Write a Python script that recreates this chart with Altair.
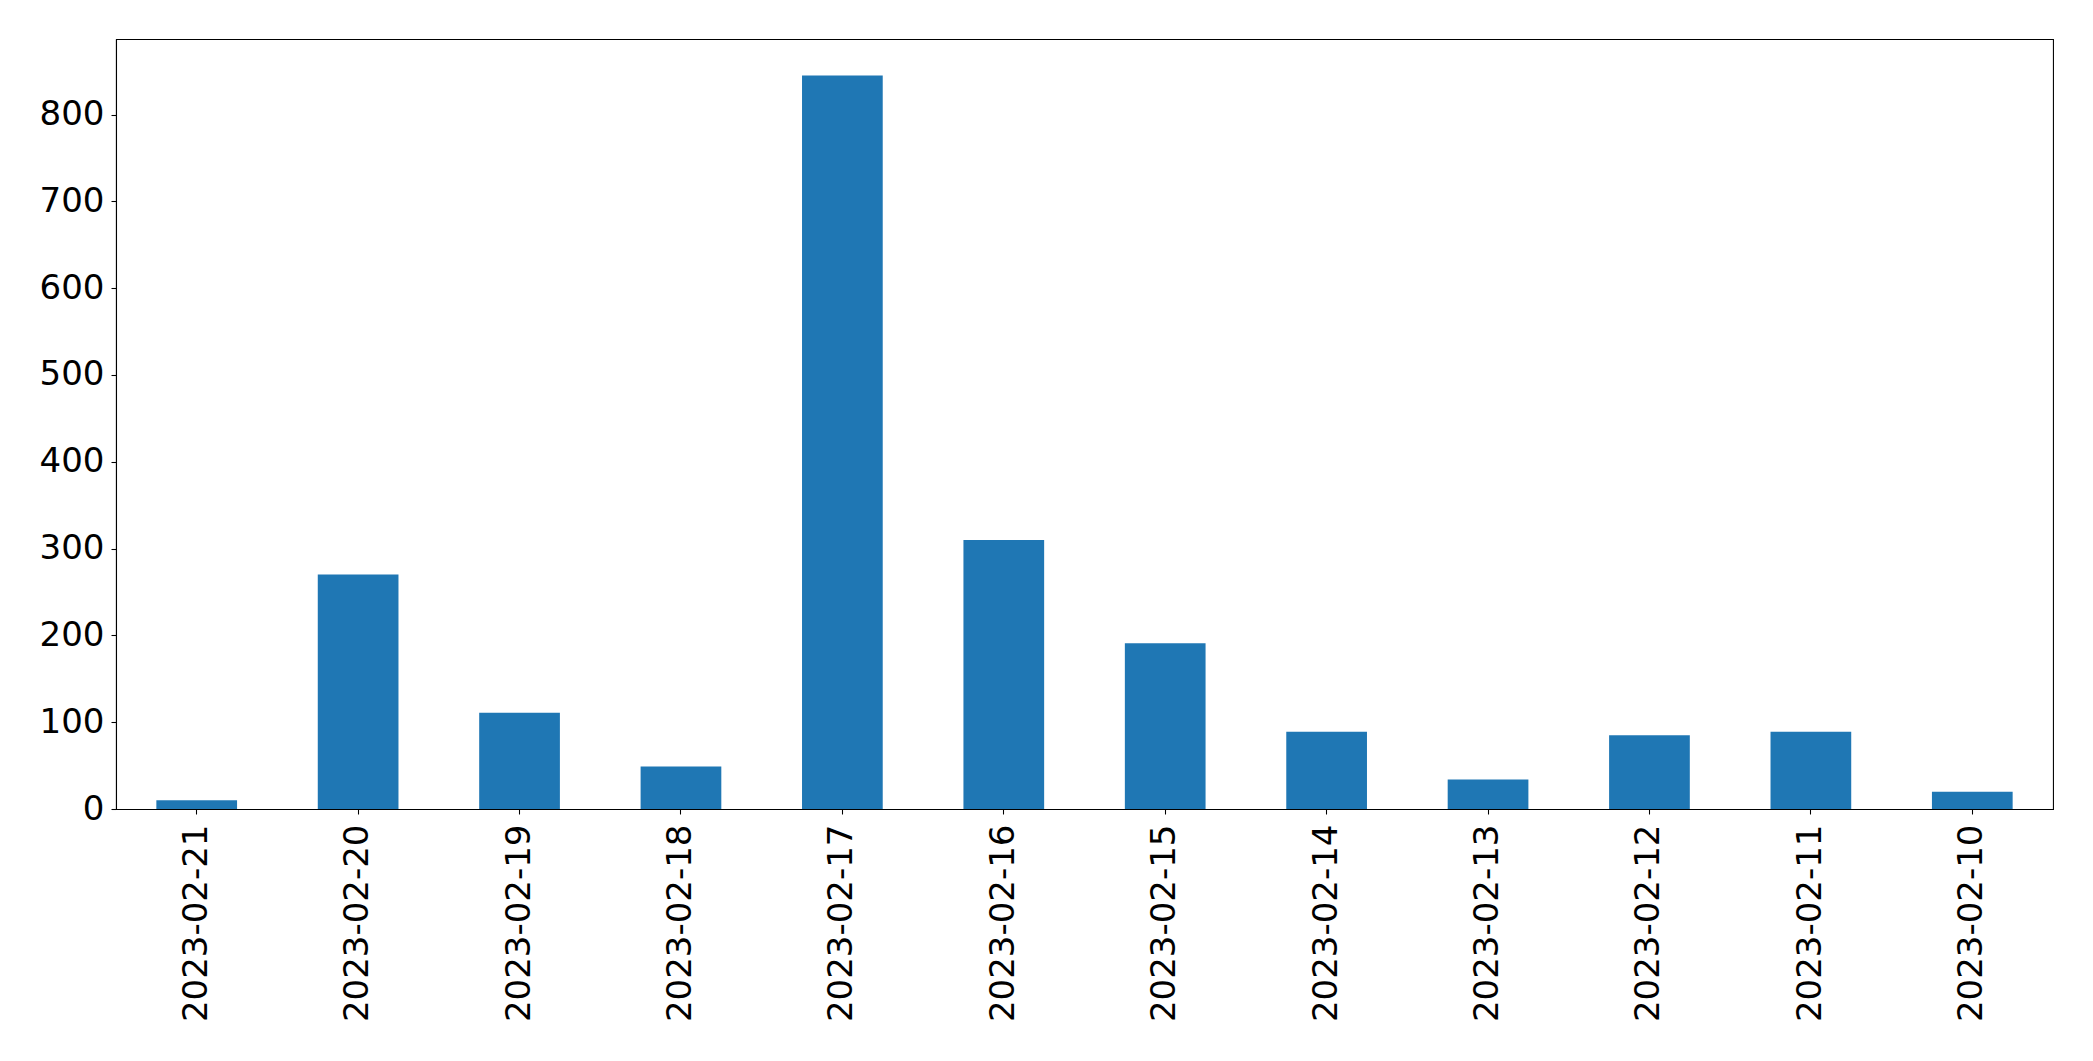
import altair as alt
import pandas as pd

dates = ["2023-02-21", "2023-02-20", "2023-02-19", "2023-02-18", "2023-02-17", "2023-02-16",
         "2023-02-15", "2023-02-14", "2023-02-13", "2023-02-12", "2023-02-11", "2023-02-10"]
counts = [10, 270, 111, 49, 845, 310, 191, 89, 34, 85, 89, 20]
y_ticks = [0, 100, 200, 300, 400, 500, 600, 700, 800]

df = pd.DataFrame({"date": dates, "count": counts})

chart = alt.Chart(df).mark_bar(color="#1f77b4").encode(
    x=alt.X("date:N", sort=dates,
            scale=alt.Scale(paddingInner=0.5, paddingOuter=0.25),
            axis=alt.Axis(title=None, labelAngle=-90, labelAlign="right", labelBaseline="middle",
                          labelPadding=10, tickSize=5, labelFontSize=34, labelFont="DejaVu Sans",
                          labelColor="black", domainColor="black", tickColor="black",
                          labelOverlap=False, labelLimit=0)),
    y=alt.Y("count:Q", scale=alt.Scale(domain=[0, 887], nice=False, zero=True),
            axis=alt.Axis(title=None, values=y_ticks, tickSize=5, labelPadding=7,
                          labelFontSize=34, labelFont="DejaVu Sans", labelColor="black",
                          domainColor="black", tickColor="black", grid=False)),
).properties(
    width=1937, height=770,
    autosize=alt.AutoSizeParams(type="none"),
    padding={"left": 108, "top": 31, "right": 24, "bottom": 244},
).configure_view(stroke="black", strokeWidth=1.07).configure_axis(domainWidth=1.07, tickWidth=1.07)

chart.save("out.html", embed_options={"renderer": "svg", "actions": False})
